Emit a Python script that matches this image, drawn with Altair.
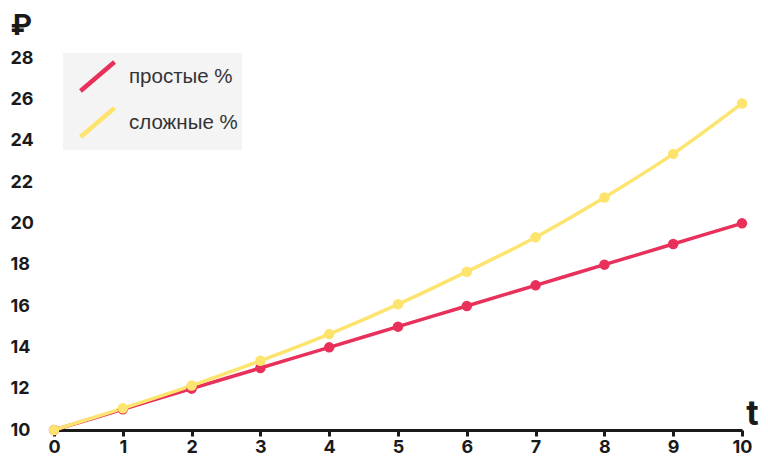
import altair as alt
import pandas as pd

t_values = [0, 1, 2, 3, 4, 5, 6, 7, 8, 9, 10]
simple_values = [10, 11, 12, 13, 14, 15, 16, 17, 18, 19, 20]
compound_values = [10, 11.05, 12.15, 13.35, 14.64, 16.08, 17.66, 19.33, 21.25, 23.36, 25.8]
series_names = ["простые %", "сложные %"]
series_colors = ["#E8305A", "#FDE46F"]
y_ticks = [10, 12, 14, 16, 18, 20, 22, 24, 26, 28]

rows = []
for t, v in zip(t_values, simple_values):
    rows.append({"t": t, "v": v, "s": series_names[0]})
for t, v in zip(t_values, compound_values):
    rows.append({"t": t, "v": v, "s": series_names[1]})
df = pd.DataFrame(rows)

color = alt.Color("s:N", scale=alt.Scale(domain=series_names, range=series_colors),
                  legend=alt.Legend(title=None))

x = alt.X("t:Q", scale=alt.Scale(domain=[0, 10], nice=False, zero=False),
          axis=alt.Axis(values=t_values, title="t", titleAngle=0, titleX=698, titleY=-6,
                        titleBaseline="alphabetic", titleAlign="center", titleFontSize=34,
                        titleFont="Inter", titleFontWeight="bold", titleColor="#1a1a1a",
                        labelFlush=False, labelPadding=2))
y = alt.Y("v:Q", scale=alt.Scale(domain=[10, 28], nice=False, zero=False),
          axis=alt.Axis(values=y_ticks, title="₽", titleAngle=0, titleX=-44, titleY=-33,
                        titleBaseline="middle", titleAlign="left", titleFontSize=29,
                        titleFont="Inter", titleFontWeight="bold", titleColor="#1a1a1a",
                        domain=False, ticks=False, labelAlign="left", labelPadding=44,
                        labelFlush=False))

lines = alt.Chart(df).mark_line(strokeWidth=3.5, interpolate="monotone").encode(
    x=x, y=y, color=color, detail="s:N")
points = alt.Chart(df).mark_point(filled=True, size=110, opacity=1).encode(
    x=x, y=y, color=alt.Color("s:N", scale=alt.Scale(domain=series_names, range=series_colors), legend=None))

chart = alt.layer(lines, points).properties(
    width=688, height=372,
    autosize=alt.AutoSizeParams(type="none"),
    padding={"left": 46, "top": 50, "right": 18, "bottom": 28},
).configure_view(stroke=None).configure_axis(
    grid=False, labelFont="Inter", labelFontWeight="bold", labelFontSize=18,
    labelColor="#1a1a1a", domainColor="#1a1a1a", domainWidth=3,
    tickColor="#1a1a1a", tickWidth=3, tickSize=6,
).configure_legend(
    orient="none", legendX=9, legendY=-5, fillColor="#f4f4f4", padding=4,
    symbolType="M-1,0.85L1,-0.85", symbolSize=1156, symbolStrokeWidth=4.5,
    symbolOffset=11, labelOffset=12, rowPadding=-1,
    labelFont="Liberation Sans", labelFontSize=20.5, labelColor="#333333", labelLimit=220,
)

chart.save("out.html", embed_options={"renderer": "svg", "actions": False})
